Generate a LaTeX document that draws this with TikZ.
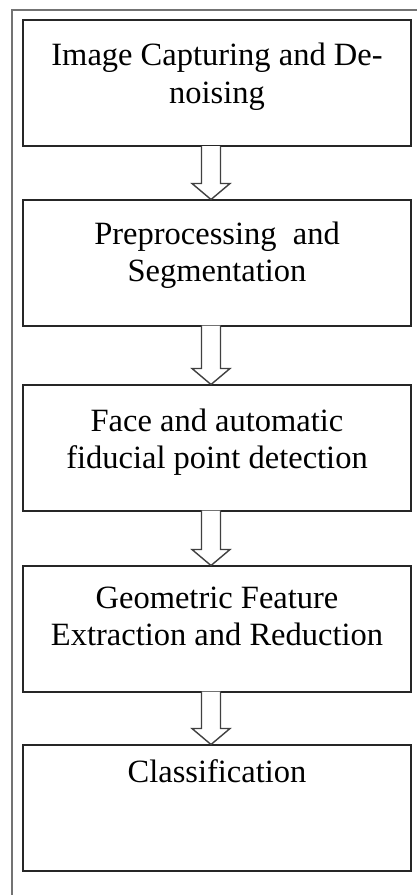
\documentclass[tikz,border=0pt]{standalone}
\usepackage{fontspec}
\setmainfont{Liberation Serif}
\usetikzlibrary{calc}

\tikzset{
    stagebox/.style={draw=black!85, line width=2pt, rectangle, inner sep=0pt, outer sep=0pt,
        minimum width=388, minimum height=126},
    stagetext/.style={anchor=base, align=center, inner sep=0pt,
        font=\fontsize{32.5}{37.5}\selectfont},
    hollowarrow/.style={draw=black!75, line width=1.4pt, fill=white, line join=miter},
    frameline/.style={draw=black!55, line width=1.2pt}
}

\begin{document}
\begin{tikzpicture}[x=1pt, y=1pt]
    \useasboundingbox (0,0) rectangle (417,-895);

    % Outer frame (cut at right and bottom)
    \draw[frameline] (417,-10) -- (12,-10) -- (12,-895);

    % Stages
    \node[stagebox] (s1) at (217,-83) {};
    \node[stagebox] (s2) at (217,-262.5) {};
    \node[stagebox] (s3) at (217,-447.5) {};
    \node[stagebox] (s4) at (217,-628.5) {};
    \node[stagebox] (s5) at (217,-807.5) {};

    % Stage labels (base = last line)
    \node[stagetext] (t1) at ([yshift=-83]s1.north) {Image Capturing and De-\\noising};
    \node[stagetext] (t2) at ([yshift=-82]s2.north) {Preprocessing \ and\\Segmentation};
    \node[stagetext] (t3) at ([yshift=-84]s3.north) {Face and automatic\\fiducial point detection};
    \node[stagetext] (t4) at ([yshift=-80]s4.north) {Geometric Feature\\Extraction and Reduction};
    \node[stagetext] (t5) at ([yshift=-38]s5.north) {Classification};

    % Hollow block arrows between stages
    \foreach \a/\b in {s1/s2, s2/s3, s3/s4, s4/s5} {
        \draw[hollowarrow]
            ($(\a.south)+(-15.5,0)$)
            -- ($(\b.north)+(-15.5,16)$)
            -- ($(\b.north)+(-25,16)$)
            -- ($(\b.north)+(-6,0)$)
            -- ($(\b.north)+(13,16)$)
            -- ($(\b.north)+(3.5,16)$)
            -- ($(\a.south)+(3.5,0)$);
    }
\end{tikzpicture}
\end{document}
